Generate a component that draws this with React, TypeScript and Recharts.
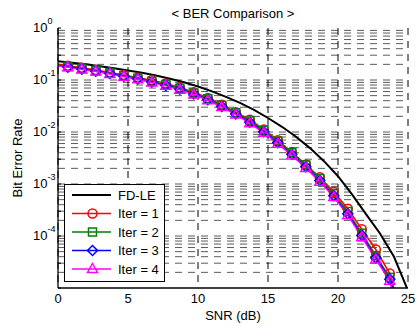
import React from "react";
import { LineChart, Line, XAxis, YAxis, CartesianGrid, Legend } from "recharts";

const FONT = '"Liberation Sans", Arial, Helvetica, sans-serif';

// FD-LE reference curve
const snrFdle = [0, 1, 2, 3, 4, 5, 6, 7, 8, 9, 10, 11, 12, 13, 14, 15, 16, 17, 18, 19, 20, 21, 22, 23, 24, 25];
const berFdle = [
  0.229, 0.214, 0.2, 0.184, 0.168, 0.153, 0.138, 0.122, 0.106, 0.0902, 0.075, 0.0603, 0.0473,
  0.0363, 0.0266, 0.0186, 0.0126, 0.00813, 0.0049, 0.00275, 0.00141, 6.3e-4, 2.63e-4, 1.12e-4,
  3.98e-5, 8.9e-6,
];

// iterative receiver curves (first and last points carry no marker)
const snrIter = [
  0, 0.7, 1.7, 2.7, 3.7, 4.7, 5.7, 6.7, 7.7, 8.7, 9.7, 10.7, 11.7, 12.7, 13.7, 14.7, 15.7, 16.7,
  17.7, 18.7, 19.7, 20.7, 21.7, 22.7, 23.7, 24.2,
];
const berIter1 = [
  0.2, 0.188, 0.172, 0.156, 0.14, 0.125, 0.11, 0.0995, 0.0855, 0.0719, 0.0582, 0.0452, 0.0335,
  0.024, 0.0172, 0.0112, 0.00692, 0.00412, 0.00237, 0.00135, 7.08e-4, 3.35e-4, 1.35e-4, 5.5e-5,
  1.9e-5, 6.3e-6,
];
const berIter2 = [
  0.193, 0.181, 0.166, 0.151, 0.137, 0.122, 0.108, 0.0945, 0.0815, 0.069, 0.056, 0.0436, 0.0326,
  0.0235, 0.0163, 0.0107, 0.00665, 0.00399, 0.00232, 0.00127, 6.5e-4, 2.95e-4, 1.13e-4, 4.2e-5,
  1.6e-5, 5e-6,
];
const berIter3 = [
  0.19, 0.177, 0.162, 0.147, 0.133, 0.118, 0.105, 0.0915, 0.0788, 0.0665, 0.0538, 0.0418, 0.0311,
  0.0223, 0.0154, 0.0101, 0.00625, 0.00373, 0.00215, 0.00117, 5.95e-4, 2.68e-4, 1.02e-4, 3.8e-5,
  1.48e-5, 4.5e-6,
];
const berIter4 = [
  0.188, 0.175, 0.16, 0.145, 0.131, 0.116, 0.103, 0.0897, 0.0771, 0.0649, 0.0525, 0.0407, 0.0302,
  0.0216, 0.0148, 0.00966, 0.00596, 0.00355, 0.00204, 0.00111, 5.62e-4, 2.51e-4, 9.55e-5, 3.55e-5,
  1.38e-5, 4e-6,
];

const xTicks = [0, 5, 10, 15, 20, 25];
const xInnerTicks = [5, 10, 15, 20];
const yTicks = [1e-4, 1e-3, 1e-2, 1e-1, 1];
const yExp = ["-4", "-3", "-2", "-1", "0"];

// minor log positions (1..9 x 10^k)
const minorTicks: number[] = [];
for (let k = -5; k < 0; k++) {
  for (let m = 1; m <= 9; m++) minorTicks.push(m * Math.pow(10, k));
}
minorTicks.push(1);
const gridValues = minorTicks.filter((v) => v > 1.01e-5 && v < 0.999);

type MarkerType = "circle" | "square" | "diamond" | "triangle" | null;

const toPoints = (xs: number[], ys: number[]) => xs.map((x, i) => ({ snr: x, ber: ys[i] }));

const series = [
  { name: "Iter = 1", data: toPoints(snrIter, berIter1), color: "#ff0000", marker: "circle" as MarkerType },
  { name: "Iter = 2", data: toPoints(snrIter, berIter2), color: "#008000", marker: "square" as MarkerType },
  { name: "Iter = 3", data: toPoints(snrIter, berIter3), color: "#0000ff", marker: "diamond" as MarkerType },
  { name: "Iter = 4", data: toPoints(snrIter, berIter4), color: "#ff00ff", marker: "triangle" as MarkerType },
];
const fdleData = toPoints(snrFdle, berFdle);

const legendRows = [
  { name: "FD-LE", color: "#000", marker: null as MarkerType, width: 2 },
  ...series.map((s) => ({ name: s.name, color: s.color, marker: s.marker, width: 1.5 })),
];

const Marker = ({ type, cx, cy, color }: { type: MarkerType; cx: number; cy: number; color: string }) => {
  const common = { fill: "none", stroke: color, strokeWidth: 1.5 };
  if (type === "circle") return <circle cx={cx} cy={cy} r={4.5} {...common} />;
  if (type === "square") return <rect x={cx - 4} y={cy - 4} width={8} height={8} {...common} />;
  if (type === "diamond")
    return <polygon points={`${cx},${cy - 5} ${cx + 5},${cy} ${cx},${cy + 5} ${cx - 5},${cy}`} {...common} />;
  if (type === "triangle")
    return <polygon points={`${cx},${cy - 5.5} ${cx + 5},${cy + 3.5} ${cx - 5},${cy + 3.5}`} {...common} />;
  return null;
};

const makeDot = (type: MarkerType, color: string, count: number) => (p: any) => {
  const { cx, cy, index } = p;
  if (index === 0 || index === count - 1 || cx == null || cy == null) return <g key={`e${index}`} />;
  return (
    <g key={`d${index}`}>
      <Marker type={type} cx={cx} cy={cy} color={color} />
    </g>
  );
};

const emptyTick = () => <g />;

const YTick = (p: any) => {
  const i = yTicks.indexOf(p.payload.value);
  return (
    <text x={p.x - 25} y={p.y + 4} fontSize={13} fontFamily={FONT} fill="#000">
      10
      <tspan dy={-8} fontSize={9}>
        {yExp[i]}
      </tspan>
    </text>
  );
};

const LegendBox = () => (
  <svg width={101} height={98} style={{ display: "block" }}>
    <rect x={0.5} y={0.5} width={100} height={97} fill="#fff" stroke="#000" />
    {legendRows.map((r, i) => {
      const y = 11 + i * 18.5;
      return (
        <g key={r.name}>
          <line x1={8} x2={47} y1={y} y2={y} stroke={r.color} strokeWidth={r.width} />
          {r.marker && <Marker type={r.marker} cx={28.5} cy={y} color={r.color} />}
          <text x={54} y={y + 4.5} fontSize={13} fontFamily={FONT} fill="#000">
            {r.name}
          </text>
        </g>
      );
    })}
  </svg>
);

const scaleOf = (axis: any, v: number) => {
  const s = axis && axis.scale;
  if (typeof s === "function") return s(v);
  if (s && typeof s.map === "function") return s.map(v);
  return null;
};

const App = () => {
  return (
    <div style={{ position: "absolute", left: 0, top: 0, width: 419, height: 326, background: "#fff" }}>
      <svg width={419} height={326} style={{ position: "absolute", left: 0, top: 0 }}>
        <text x={233} y={17.5} textAnchor="middle" fontSize={13} fontFamily={FONT} fill="#000">
          {"< BER Comparison >"}
        </text>
      </svg>
      <div style={{ position: "absolute", left: 0, top: 0 }}>
        <LineChart width={419} height={326} margin={{ top: 28, right: 11, bottom: 0, left: 0 }}>
          <CartesianGrid
            vertical={false}
            stroke="#5a5a5a"
            strokeDasharray="7 6"
            horizontalCoordinatesGenerator={({ yAxis }: any) =>
              gridValues.map((v) => scaleOf(yAxis, v)).filter((c) => c != null) as number[]
            }
          />
          <CartesianGrid horizontal={false} stroke="#000" strokeDasharray="7 6" />
          <XAxis
            dataKey="snr"
            type="number"
            domain={[0, 25]}
            ticks={xTicks}
            allowDataOverflow
            height={38}
            tickLine={false}
            tickSize={4}
            tickMargin={2}
            axisLine={{ stroke: "#000", strokeWidth: 1.3 }}
            tick={{ fontSize: 13, fill: "#000", fontFamily: FONT }}
            label={{ value: "SNR (dB)", position: "insideBottom", offset: 6, fontSize: 13, fill: "#000", fontFamily: FONT }}
          />
          <XAxis
            xAxisId="top"
            orientation="top"
            mirror
            dataKey="snr"
            type="number"
            domain={[0, 25]}
            ticks={xInnerTicks}
            allowDataOverflow
            height={0}
            tickSize={4}
            tickLine={{ stroke: "#000" }}
            axisLine={{ stroke: "#000", strokeWidth: 1.3 }}
            tick={emptyTick}
          />
          <XAxis
            xAxisId="bm"
            orientation="bottom"
            mirror
            dataKey="snr"
            type="number"
            domain={[0, 25]}
            ticks={xInnerTicks}
            allowDataOverflow
            height={0}
            tickSize={4}
            tickLine={{ stroke: "#000" }}
            axisLine={false}
            tick={emptyTick}
          />
          <YAxis
            scale="log"
            type="number"
            domain={[1e-5, 1]}
            ticks={yTicks}
            allowDataOverflow
            width={58}
            tickLine={false}
            tickSize={0}
            tickMargin={0}
            axisLine={{ stroke: "#000", strokeWidth: 1.3 }}
            tick={YTick}
            label={{
              value: "Bit Error Rate",
              angle: -90,
              position: "insideLeft",
              offset: 17,
              fontSize: 13,
              fill: "#000",
              fontFamily: FONT,
              style: { textAnchor: "middle" },
            }}
          />
          <YAxis
            yAxisId="lm"
            orientation="left"
            mirror
            scale="log"
            type="number"
            domain={[1e-5, 1]}
            ticks={minorTicks}
            allowDataOverflow
            tickSize={3}
            tickLine={{ stroke: "#000" }}
            axisLine={false}
            tick={emptyTick}
          />
          <YAxis
            yAxisId="right"
            orientation="right"
            mirror
            scale="log"
            type="number"
            domain={[1e-5, 1]}
            ticks={minorTicks}
            allowDataOverflow
            width={0}
            tickSize={3}
            tickLine={{ stroke: "#000" }}
            axisLine={{ stroke: "#000", strokeWidth: 1.3 }}
            tick={emptyTick}
          />
          <Line
            data={fdleData}
            dataKey="ber"
            name="FD-LE"
            stroke="#000"
            strokeWidth={2}
            dot={false}
            activeDot={false}
            isAnimationActive={false}
          />
          {series.map((s) => (
            <Line
              key={s.name}
              data={s.data}
              dataKey="ber"
              name={s.name}
              stroke={s.color}
              strokeWidth={1.5}
              dot={makeDot(s.marker, s.color, s.data.length)}
              activeDot={false}
              isAnimationActive={false}
            />
          ))}
          <Legend
            layout="vertical"
            align="center"
            verticalAlign="middle"
            wrapperStyle={{ left: 64, top: 184, width: 101, height: 98 }}
            content={() => <LegendBox />}
          />
        </LineChart>
      </div>
    </div>
  );
};

export default App;
